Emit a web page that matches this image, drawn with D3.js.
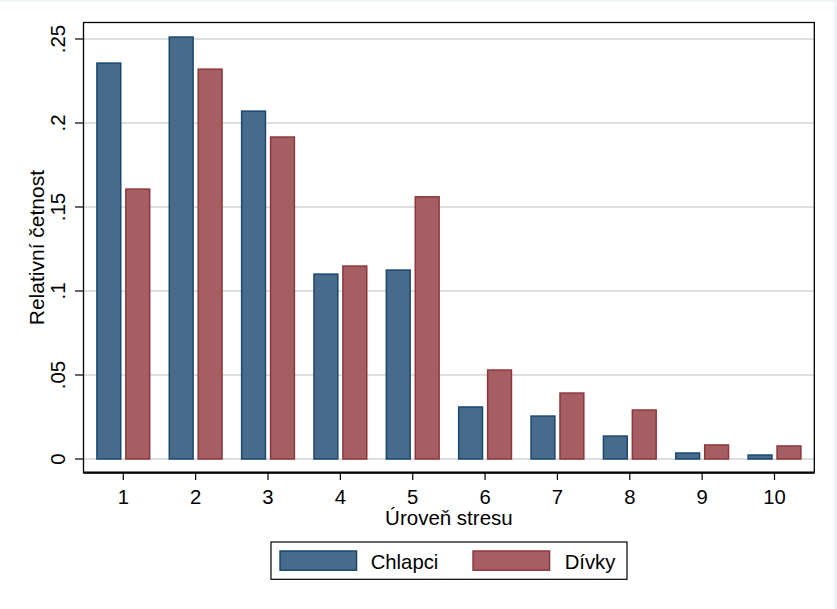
<!DOCTYPE html>
<html><head><meta charset="utf-8">
<script src="https://cdn.jsdelivr.net/npm/d3@7"></script>
<style>html,body{margin:0;padding:0;background:#eaf1f3;}svg{display:block;}</style>
</head><body>
<script>
const categories = [1,2,3,4,5,6,7,8,9,10];
const chlapci = [0.2361,0.2516,0.2075,0.1105,0.1129,0.0314,0.0260,0.0141,0.0040,0.0028];
const divky   = [0.1611,0.2325,0.1921,0.1153,0.1565,0.0534,0.0397,0.0296,0.0088,0.0082];
const yTicks = [0,0.05,0.1,0.15,0.2,0.25];
const yTickLabels = ["0",".05",".1",".15",".2",".25"];
const seriesNames = ["Chlapci","Dívky"];
const xTitle = "Úroveň stresu";
const yTitle = "Relativní četnost";

const W=837,H=609;
const font='"Liberation Sans", Arial, Helvetica, sans-serif';
const svg=d3.select("body").append("svg").attr("width",W).attr("height",H);
svg.append("rect").attr("x",0).attr("y",0).attr("width",W).attr("height",H).attr("fill","#eaf1f3");
svg.append("rect").attr("x",0).attr("y",1.5).attr("width",834.5).attr("height",H).attr("fill","#fff");

const L=83.5,R=814.3,T=22.5,B=472.7;
const x=d3.scaleLinear().domain([0.45,10.55]).range([L,R]);
const y=d3.scaleLinear().domain([0,0.25]).range([459,39]);

const fills=["#496b8b","#a55e61"], strokes=["#1a476f","#90353b"];

// grid
svg.append("g").selectAll("line").data(yTicks).join("line")
  .attr("x1",L).attr("x2",R).attr("y1",d=>y(d)).attr("y2",d=>y(d))
  .attr("stroke","#c0c0c0").attr("stroke-width",1.2);

// bars
const sw=1.5;
[chlapci,divky].forEach((vals,si)=>{
  const off0 = si===0 ? -0.375 : 0.025;
  svg.append("g").selectAll("rect").data(categories.map((c,i)=>({c,v:vals[i]}))).join("rect")
    .attr("x",d=>x(d.c+off0)+sw/2)
    .attr("width",d=>x(d.c+off0+0.35)-x(d.c+off0)-sw)
    .attr("y",d=>y(d.v)+sw/2)
    .attr("height",d=>Math.max(0,y(0)-y(d.v)-sw/2))
    .attr("fill",fills[si]).attr("stroke",strokes[si]).attr("stroke-width",sw);
});

// frame
svg.append("rect").attr("x",L).attr("y",T).attr("width",R-L).attr("height",B-T)
  .attr("fill","none").attr("stroke","#000").attr("stroke-width",1.3);
svg.append("line").attr("x1",L).attr("x2",R).attr("y1",B).attr("y2",B).attr("stroke","#000").attr("stroke-width",2.2);

// y axis ticks
const yg=svg.append("g");
yg.selectAll("line").data(yTicks).join("line")
  .attr("x1",75).attr("x2",L).attr("y1",d=>y(d)).attr("y2",d=>y(d)).attr("stroke","#000").attr("stroke-width",1.2);
yg.selectAll("text").data(yTicks).join("text")
  .attr("transform",d=>`translate(65,${y(d)}) rotate(-90)`)
  .attr("text-anchor","middle").attr("font-family",font).attr("font-size",20.5).attr("fill","#000")
  .text((d,i)=>yTickLabels[i]);

// x axis ticks
const xg=svg.append("g");
xg.selectAll("line").data(categories).join("line")
  .attr("x1",d=>x(d)).attr("x2",d=>x(d)).attr("y1",B).attr("y2",480).attr("stroke","#000").attr("stroke-width",1.2);
xg.selectAll("text").data(categories).join("text")
  .attr("x",d=>x(d)).attr("y",503.5).attr("text-anchor","middle")
  .attr("font-family",font).attr("font-size",20.3).attr("fill","#000").text(d=>d);

// titles
svg.append("text").attr("x",(L+R)/2).attr("y",525).attr("text-anchor","middle")
  .attr("font-family",font).attr("font-size",20.5).attr("fill","#000").text(xTitle);
svg.append("text").attr("transform",`translate(43.5,${(T+B)/2}) rotate(-90)`).attr("text-anchor","middle")
  .attr("font-family",font).attr("font-size",21).attr("fill","#000").text(yTitle);

// legend
const lg=svg.append("g");
lg.append("rect").attr("x",271).attr("y",542).attr("width",356).attr("height",37.3)
  .attr("fill","#fff").attr("stroke","#000").attr("stroke-width",1.2);
const legX=[279.3,472.3], txtX=[370.7,564.7];
seriesNames.forEach((n,i)=>{
  lg.append("rect").attr("x",legX[i]+0.75).attr("y",551).attr("width",76.5).attr("height",19.2)
    .attr("fill",fills[i]).attr("stroke",strokes[i]).attr("stroke-width",sw);
  lg.append("text").attr("x",txtX[i]).attr("y",569).attr("font-family",font).attr("font-size",20.3)
    .attr("fill","#000").text(n);
});
</script>
</body></html>
